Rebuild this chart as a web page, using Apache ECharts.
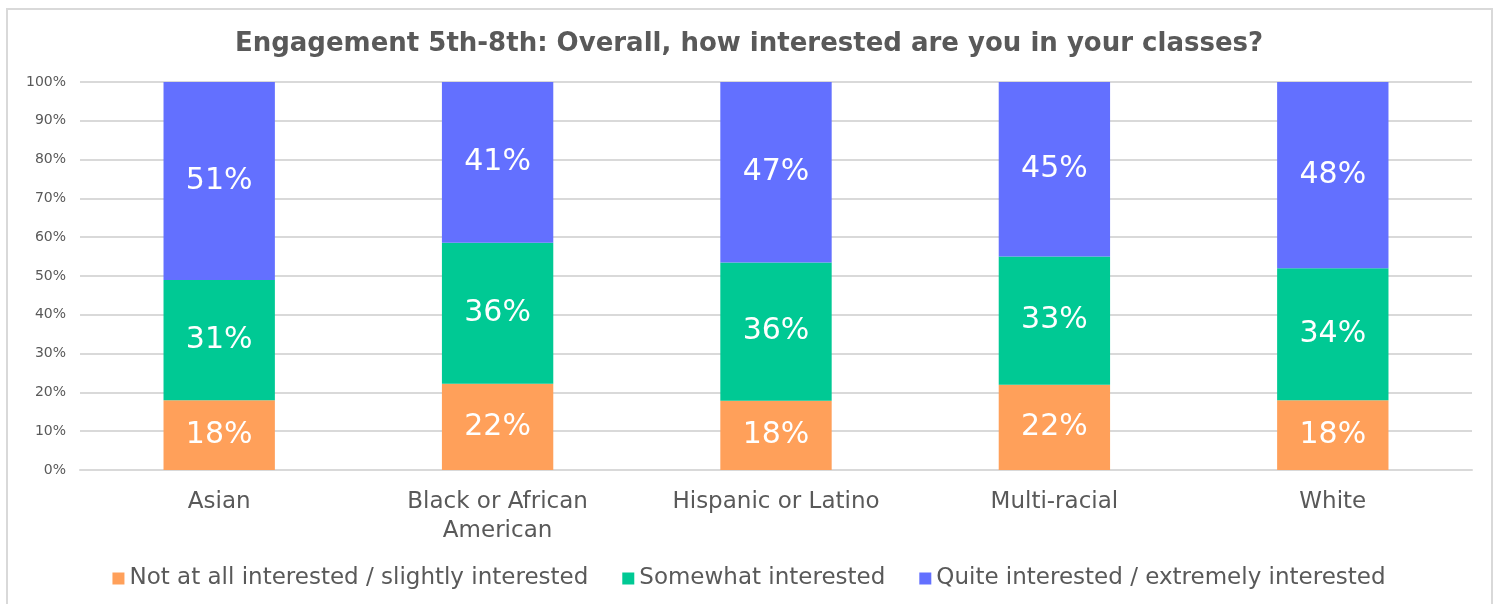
<!DOCTYPE html>
<html lang="en">
<head>
  <meta charset="UTF-8">
  <title>Engagement 5th-8th</title>
  <style>
    html, body { margin: 0; padding: 0; background: #fff; }
    #frame { position: absolute; left: 6px; top: 8px; width: 1487px; height: 610px; border: 2px solid #d9d9d9; box-sizing: border-box; }
    #echarts { width: 1498px; height: 604px; }
  </style>
</head>
<body>
  <div id="frame"></div>
  <div id="echarts"></div>
  <script src="https://cdn.jsdelivr.net/npm/echarts@6/dist/echarts.min.js"></script>
  <script>
    const categories = ['Asian', 'Black or African\nAmerican', 'Hispanic or Latino', 'Multi-racial', 'White'];
    const notInterested = [18, 22, 18, 22, 18];
    const somewhat = [31, 36, 36, 33, 34];
    const quite = [51, 41, 47, 45, 48];
    const seriesNames = ['Not at all interested / slightly interested', 'Somewhat interested', 'Quite interested / extremely interested'];
    const colors = ['#FFA05A', '#00C994', '#6370FF'];

    // 100% stacked: scale each column so it sums to 100, label with the raw value
    const raw = [notInterested, somewhat, quite];
    const totals = categories.map((c, i) => raw.reduce((s, arr) => s + arr[i], 0));

    window.onload = function () {
      let echart = echarts.init(document.getElementById('echarts'));
      const font = 'DejaVu Sans';
      let options = {
        animation: false,
        title: {
          text: 'Engagement 5th-8th: Overall, how interested are you in your classes?',
          left: 'center',
          top: 26,
          textStyle: { fontFamily: font, fontSize: 26, fontWeight: 'bold', color: '#595959' }
        },
        grid: { left: 80, right: 26, top: 82, bottom: 134, containLabel: false },
        legend: {
          bottom: 9,
          left: 'center',
          itemWidth: 12,
          itemHeight: 12,
          itemGap: 34,
          icon: 'rect',
          textStyle: { fontFamily: font, fontSize: 23, color: '#595959' },
          data: seriesNames
        },
        xAxis: {
          type: 'category',
          data: categories,
          axisLine: { lineStyle: { color: '#d9d9d9', width: 2 } },
          axisTick: { show: false },
          axisLabel: { fontFamily: font, fontSize: 23, color: '#595959', margin: 18, lineHeight: 29 }
        },
        yAxis: {
          type: 'value',
          min: 0,
          max: 100,
          interval: 10,
          axisLine: { show: false },
          axisTick: { show: false },
          splitLine: { lineStyle: { color: '#d9d9d9', width: 2 } },
          axisLabel: { fontFamily: font, fontSize: 14, color: '#595959', margin: 14, formatter: '{value}%' }
        },
        series: raw.map((arr, s) => ({
          name: seriesNames[s],
          type: 'bar',
          stack: 'total',
          barWidth: '40%',
          itemStyle: { color: colors[s] },
          label: {
            show: true,
            position: 'inside',
            fontFamily: font,
            fontSize: 30,
            color: '#ffffff',
            formatter: p => arr[p.dataIndex] + '%'
          },
          data: arr.map((v, i) => v / totals[i] * 100)
        }))
      };
      echart.setOption(options);
    };
  </script>
</body>
</html>
